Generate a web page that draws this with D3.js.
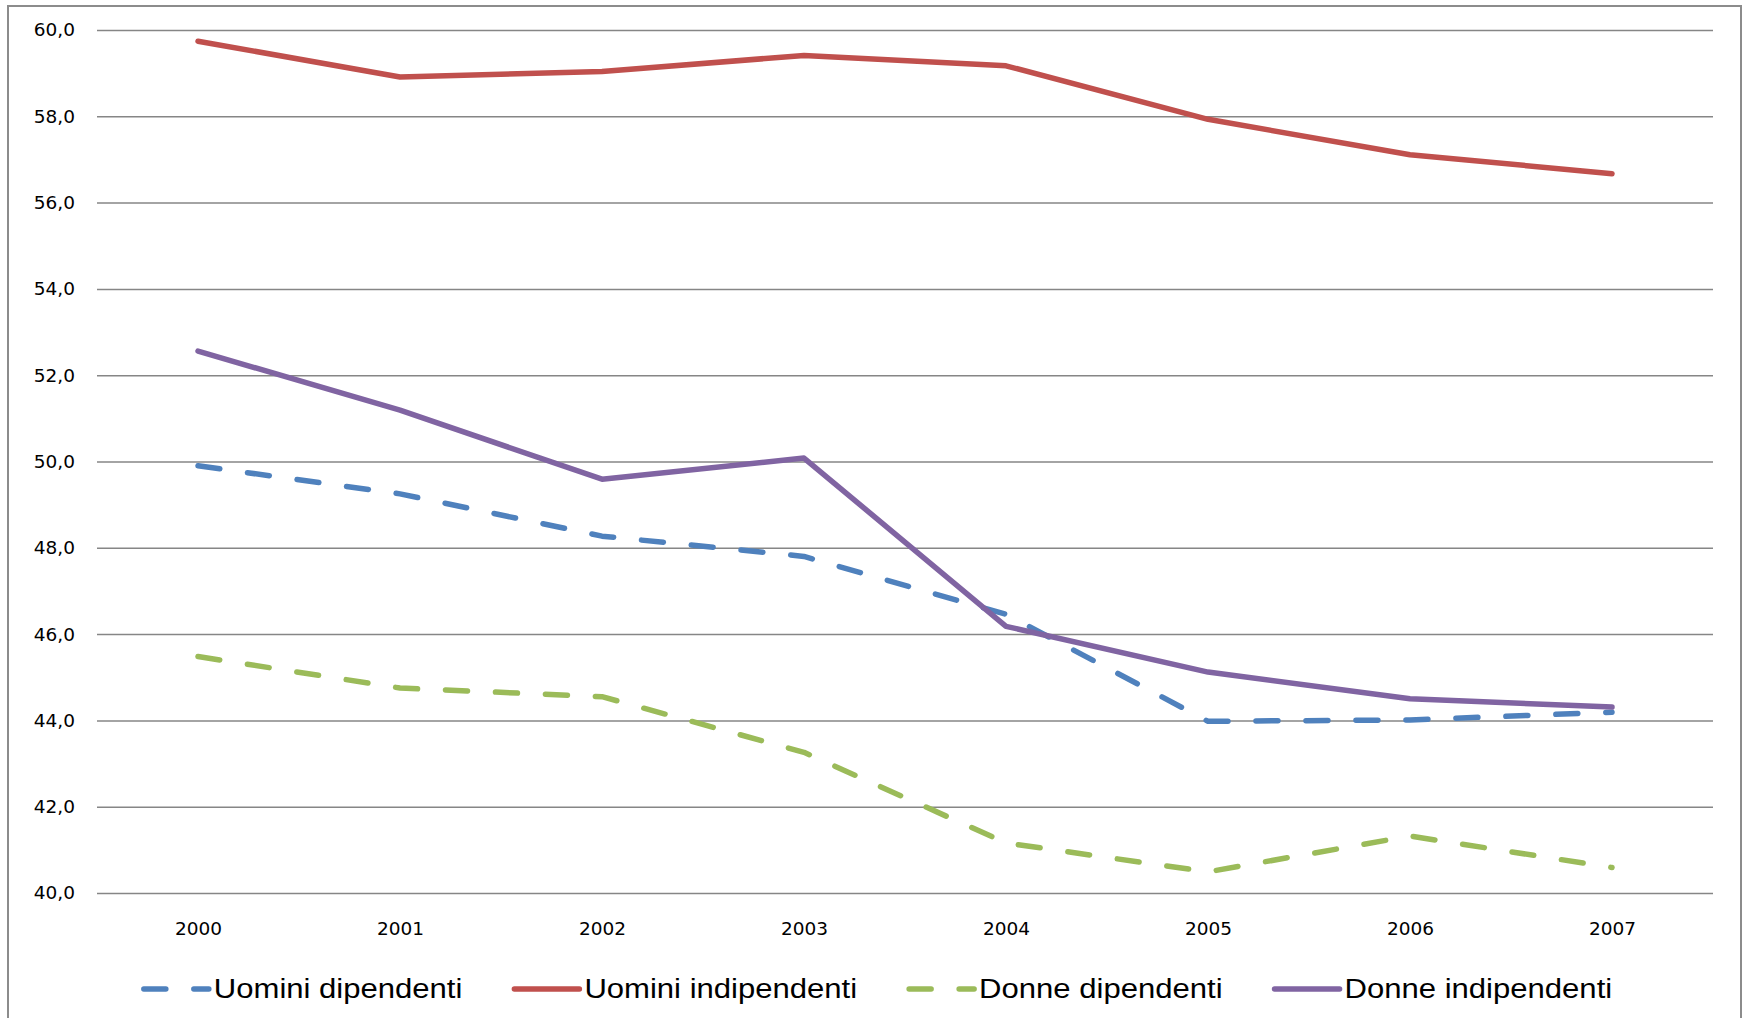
<!DOCTYPE html>
<html>
<head>
<meta charset="utf-8">
<script src="https://cdn.jsdelivr.net/npm/d3@7"></script>
<style>
  body { margin: 0; background: #fff; }
  svg { display: block; }
</style>
</head>
<body>
<script>
const years = ["2000", "2001", "2002", "2003", "2004", "2005", "2006", "2007"];
const uominiDipendenti = [49.9, 49.25, 48.27, 47.8, 46.46, 43.98, 44.01, 44.19];
const uominiIndipendenti = [59.74, 58.91, 59.04, 59.41, 59.17, 57.93, 57.11, 56.67];
const donneDipendenti = [45.48, 44.75, 44.55, 43.26, 41.16, 40.49, 41.32, 40.59];
const donneIndipendenti = [52.56, 51.19, 49.59, 50.08, 46.18, 45.12, 44.5, 44.31];
const yTicks = [40, 42, 44, 46, 48, 50, 52, 54, 56, 58, 60];

const series = [
    { name: "Uomini dipendenti", values: uominiDipendenti, color: "#4F81BD", dashed: true },
    { name: "Uomini indipendenti", values: uominiIndipendenti, color: "#C0504D", dashed: false },
    { name: "Donne dipendenti", values: donneDipendenti, color: "#9BBB59", dashed: true },
    { name: "Donne indipendenti", values: donneIndipendenti, color: "#8064A2", dashed: false }
];

const w = 1748, h = 1018;
const plotLeft = 97, plotRight = 1713, plotTop = 30, plotBottom = 893;

const svg = d3.select("body").append("svg")
    .attr("width", w)
    .attr("height", h);

// outer frame (bottom edge falls outside the picture)
svg.append("rect")
    .attr("x", 8).attr("y", 6)
    .attr("width", 1733).attr("height", 1040)
    .attr("fill", "#fff")
    .attr("stroke", "#8c8c8c")
    .attr("stroke-width", 2);

const x = d3.scalePoint()
    .domain(years)
    .range([plotLeft, plotRight])
    .padding(0.5);

const y = d3.scaleLinear()
    .domain([40, 60])
    .range([plotBottom, plotTop]);

const fmt = d => d.toFixed(1).replace(".", ",");

// gridlines + y labels
const yAxis = svg.append("g")
    .attr("transform", `translate(${plotLeft},0)`)
    .call(d3.axisLeft(y).tickValues(yTicks).tickFormat(fmt)
        .tickSize(-(plotRight - plotLeft)).tickPadding(22));
yAxis.select(".domain").remove();
yAxis.selectAll(".tick line")
    .attr("stroke", "#868686")
    .attr("stroke-width", 1.5);
yAxis.selectAll(".tick text")
    .attr("font-family", "DejaVu Sans")
    .attr("font-size", 18.5)
    .attr("fill", "#000");

// x labels
const xAxis = svg.append("g")
    .attr("transform", `translate(0,${plotBottom})`)
    .call(d3.axisBottom(x).tickSize(0).tickPadding(29));
xAxis.select(".domain").remove();
xAxis.selectAll(".tick text")
    .attr("font-family", "DejaVu Sans")
    .attr("font-size", 18.5)
    .attr("fill", "#000");

const line = d3.line()
    .x((d, i) => x(years[i]))
    .y(d => y(d));

svg.append("g").selectAll("path")
    .data(series)
    .enter().append("path")
    .attr("d", d => line(d.values))
    .attr("fill", "none")
    .attr("stroke", d => d.color)
    .attr("stroke-width", 5.5)
    .attr("stroke-linecap", "round")
    .attr("stroke-linejoin", "round")
    .attr("stroke-dasharray", d => d.dashed ? "22,28" : null);

// legend
const swatch = 65, swGap = 5, itemGap = 52, legendY = 989, legendCenter = 878;
const legend = svg.append("g");
const items = legend.selectAll("g")
    .data(series)
    .enter().append("g");

items.append("line")
    .attr("x1", 0).attr("x2", swatch)
    .attr("y1", 0).attr("y2", 0)
    .attr("stroke", d => d.color)
    .attr("stroke-width", 5.5)
    .attr("stroke-linecap", "round")
    .attr("stroke-dasharray", d => d.dashed ? "22,28" : null);

items.append("text")
    .attr("x", swatch + swGap)
    .attr("dy", "0.35em")
    .attr("font-family", "Liberation Sans")
    .attr("font-size", 27)
    .attr("fill", "#000")
    .text(d => d.name)
    .each(function () {
        const len = this.getComputedTextLength();
        d3.select(this)
            .attr("textLength", len * 1.15)
            .attr("lengthAdjust", "spacingAndGlyphs");
    });

let widths = [];
items.each(function (d) {
    const t = d3.select(this).select("text").node();
    widths.push(swatch + swGap + (+t.getAttribute("textLength")));
});
const total = d3.sum(widths) + itemGap * (widths.length - 1);
let cx = legendCenter - total / 2;
items.attr("transform", (d, i) => {
    const pos = cx;
    cx += widths[i] + itemGap;
    return `translate(${pos},${legendY})`;
});
</script>
</body>
</html>
